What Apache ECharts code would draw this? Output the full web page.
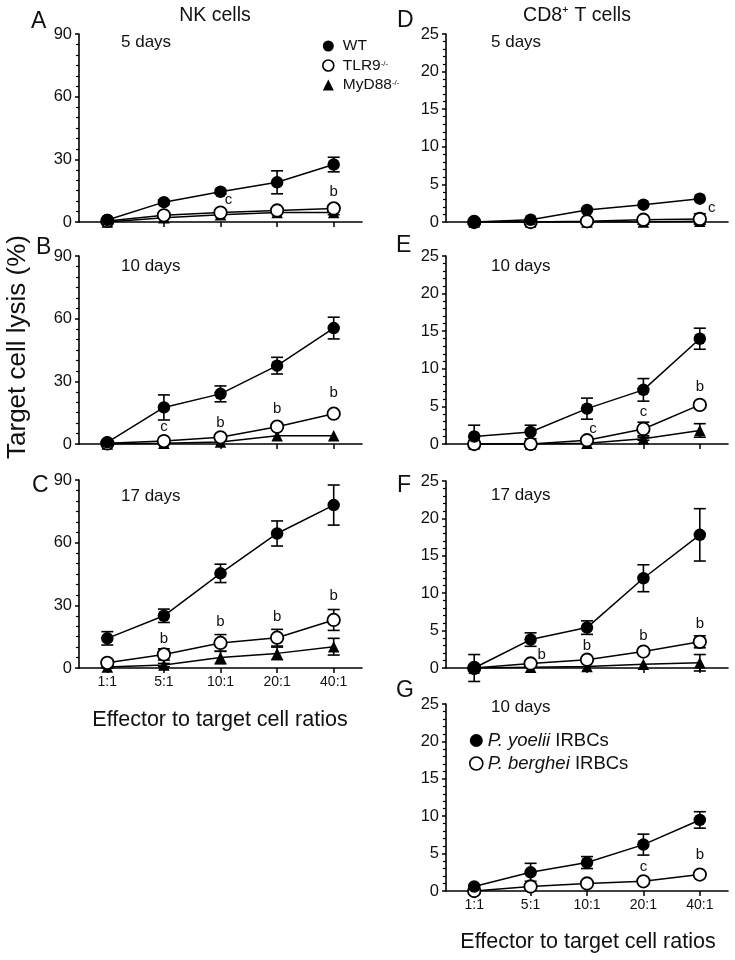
<!DOCTYPE html>
<html>
<head>
<meta charset="utf-8">
<script src="https://cdn.jsdelivr.net/npm/echarts@6/dist/echarts.min.js"></script>
<style>
  html, body { margin: 0; padding: 0; background: #fff; }
  #chart { width: 735px; height: 960px; }
</style>
</head>
<body>
<div id="chart"></div>
<script>
// effector : target ratios
var ratios = ['1:1', '5:1', '10:1', '20:1', '40:1'];

// NK cells (A: 5 days, B: 10 days, C: 17 days)
var aWT = [1, 9.5, 14.5, 19, 27.5],       aWTErr = [0, 1, 1, 5.5, 3.5];
var aTLR9 = [0.5, 3.2, 4.5, 5.5, 6.5],    aTLR9Err = [0, 1, 1, 1, 1.5];
var aMyD88 = [0, 2, 3.5, 4.5, 4.5],       aMyD88Err = [0, 0, 0, 0, 1];

var bWT = [0.8, 17.5, 24, 37.5, 55.5],    bWTErr = [0, 6, 3.8, 4, 5.2];
var bTLR9 = [0.3, 1.4, 3.2, 8.3, 14.5],   bTLR9Err = [0, 0.5, 0.5, 1, 1];
var bMyD88 = [0, 0.3, 1, 4, 4],           bMyD88Err = [0, 0, 0, 0, 0];

var cWT = [14.2, 25, 45.3, 64.4, 78],     cWTErr = [3.2, 3.2, 4.4, 6, 9.6];
var cTLR9 = [2.5, 6.5, 12, 14.5, 23],     cTLR9Err = [1.5, 2.7, 4, 4, 5];
var cMyD88 = [0.5, 1.4, 5, 7, 10.2],      cMyD88Err = [0.5, 0.8, 3, 3, 4];

// CD8+ T cells (D: 5 days, E: 10 days, F: 17 days)
var dWT = [0, 0.3, 1.6, 2.3, 3.1],        dWTErr = [0, 0, 0, 0, 0];
var dTLR9 = [0, 0, 0.1, 0.3, 0.4],        dTLR9Err = [0, 0, 0, 0, 0.7];
var dMyD88 = [0, 0, 0, 0, 0.1],           dMyD88Err = [0.3, 0.3, 0.3, 0.3, 0.3];

var eWT = [1, 1.6, 4.7, 7.2, 14],         eWTErr = [1.5, 0.9, 1.4, 1.5, 1.4];
var eTLR9 = [0, 0, 0.5, 2, 5.2],          eTLR9Err = [0.3, 0.3, 0.3, 0.9, 0.3];
var eMyD88 = [0, 0, 0.1, 0.7, 1.8],       eMyD88Err = [0, 0, 0, 0.2, 0.9];

var fWT = [0, 3.8, 5.4, 12, 17.8],        fWTErr = [1.8, 0.9, 0.9, 1.8, 3.5];
var fTLR9 = [0, 0.6, 1.1, 2.2, 3.5],      fTLR9Err = [0, 0.3, 0.3, 0.3, 0.8];
var fMyD88 = [0, 0.1, 0.2, 0.5, 0.7],     fMyD88Err = [0, 0, 0, 0, 1.1];

// G: 10 days, two parasite strains
var gYoelii = [0.6, 2.5, 3.8, 6.2, 9.5],  gYoeliiErr = [0.2, 1.2, 0.8, 1.4, 1.1];
var gBerghei = [0, 0.6, 1.0, 1.3, 2.2],   gBergheiErr = [0, 0, 0, 0, 0];

// significance letters: [category index, y value, letter]
var aSig = [[2, 10.5, 'c'], [4, 14.4, 'b']];
var bSig = [[1, 8.1, 'c'], [2, 10, 'b'], [3, 16.7, 'b'], [4, 24.4, 'b']];
var cSig = [[1, 13.9, 'b'], [2, 22, 'b'], [3, 24.4, 'b'], [4, 34.4, 'b']];
var dSig = [[4, 1.9, 'c']];
var eSig = [[2, 2.0, 'c'], [3, 4.3, 'c'], [4, 7.6, 'b']];
var fSig = [[1, 1.75, 'b'], [2, 3.0, 'b'], [3, 4.3, 'b'], [4, 5.9, 'b']];
var gSig = [[3, 3.25, 'c'], [4, 4.8, 'b']];
// sideways nudge of some letters (px)
var sigShift = { '0-0': 8, '3-0': 12, '4-0': 6, '5-0': 11 };

var FONT = '"Liberation Sans", Arial, Helvetica, sans-serif';

var panels = [
  { left: 79,  top: 34,  h: 188, max: 90, step: 30, minor: 6, showX: false, sig: aSig,
    groups: [['WT', aWT, aWTErr, 'wt'], ['TLR9-/-', aTLR9, aTLR9Err, 'ko'], ['MyD88-/-', aMyD88, aMyD88Err, 'tri']] },
  { left: 79,  top: 256, h: 188, max: 90, step: 30, minor: 6, showX: false, sig: bSig,
    groups: [['WT', bWT, bWTErr, 'wt'], ['TLR9-/-', bTLR9, bTLR9Err, 'ko'], ['MyD88-/-', bMyD88, bMyD88Err, 'tri']] },
  { left: 79,  top: 480, h: 188, max: 90, step: 30, minor: 6, showX: true, sig: cSig,
    groups: [['WT', cWT, cWTErr, 'wt'], ['TLR9-/-', cTLR9, cTLR9Err, 'ko'], ['MyD88-/-', cMyD88, cMyD88Err, 'tri']] },
  { left: 446, top: 34,  h: 188, max: 25, step: 5, minor: 5, showX: false, sig: dSig,
    groups: [['WT', dWT, dWTErr, 'wt'], ['TLR9-/-', dTLR9, dTLR9Err, 'ko'], ['MyD88-/-', dMyD88, dMyD88Err, 'tri']] },
  { left: 446, top: 256, h: 188, max: 25, step: 5, minor: 5, showX: false, sig: eSig,
    groups: [['WT', eWT, eWTErr, 'wt'], ['TLR9-/-', eTLR9, eTLR9Err, 'ko'], ['MyD88-/-', eMyD88, eMyD88Err, 'tri']] },
  { left: 446, top: 481, h: 187, max: 25, step: 5, minor: 5, showX: false, sig: fSig,
    groups: [['WT', fWT, fWTErr, 'wt'], ['TLR9-/-', fTLR9, fTLR9Err, 'ko'], ['MyD88-/-', fMyD88, fMyD88Err, 'tri']] },
  { left: 446, top: 704, h: 187, max: 25, step: 5, minor: 5, showX: true, sig: gSig,
    groups: [['P. yoelii IRBCs', gYoelii, gYoeliiErr, 'wt'], ['P. berghei IRBCs', gBerghei, gBergheiErr, 'ko']] }
];

var grid = [], xAxis = [], yAxis = [], series = [];

panels.forEach(function (p, i) {
  grid.push({ left: p.left, top: p.top, width: i < 3 ? 283 : 282, height: p.h });
  xAxis.push({
    type: 'category', gridIndex: i, data: ratios, boundaryGap: true,
    axisLine: { lineStyle: { color: '#000', width: 1.6 } },
    axisTick: { show: true, alignWithLabel: true, length: 5, lineStyle: { color: '#000', width: 1.5 } },
    axisLabel: { show: p.showX, color: '#111', fontSize: 14, fontFamily: FONT, margin: 7 },
    splitLine: { show: false }
  });
  yAxis.push({
    type: 'value', gridIndex: i, min: 0, max: p.max, interval: p.step,
    axisLine: { show: true, lineStyle: { color: '#000', width: 1.6 } },
    axisTick: { show: true, length: 4, lineStyle: { color: '#000', width: 1.5 } },
    minorTick: { show: true, splitNumber: p.minor, length: 3, lineStyle: { color: '#000', width: 1.2 } },
    axisLabel: { color: '#111', fontSize: 16.5, fontFamily: FONT, margin: 7 },
    splitLine: { show: false }
  });

  p.groups.forEach(function (g) {
    var name = g[0], vals = g[1], errs = g[2], kind = g[3];
    // error bars
    series.push({
      type: 'custom', xAxisIndex: i, yAxisIndex: i, z: 2, silent: true,
      data: vals.map(function (v, k) { return [k, v - errs[k], v + errs[k], errs[k]]; }),
      renderItem: function (params, api) {
        if (!(api.value(3) > 0)) return null;
        var hi = api.coord([api.value(0), api.value(2)]);
        var lo = api.coord([api.value(0), api.value(1)]);
        var st = { stroke: '#000', lineWidth: 1.6 };
        return {
          type: 'group', children: [
            { type: 'line', shape: { x1: hi[0], y1: hi[1], x2: lo[0], y2: lo[1] }, style: st },
            { type: 'line', shape: { x1: hi[0] - 6, y1: hi[1], x2: hi[0] + 6, y2: hi[1] }, style: st },
            { type: 'line', shape: { x1: lo[0] - 6, y1: lo[1], x2: lo[0] + 6, y2: lo[1] }, style: st }
          ]
        };
      }
    });
    var s = {
      type: 'line', name: name, xAxisIndex: i, yAxisIndex: i, data: vals,
      symbolSize: 12.5, showAllSymbol: true, silent: true, animation: false,
      lineStyle: { color: '#000', width: 1.5 }, z: kind === 'wt' ? 5 : (kind === 'ko' ? 4 : 3)
    };
    if (kind === 'wt') { s.symbol = 'circle'; s.itemStyle = { color: '#000' }; }
    else if (kind === 'ko') { s.symbol = 'circle'; s.itemStyle = { color: '#fff', borderColor: '#000', borderWidth: 1.8 }; }
    else { s.symbol = 'triangle'; s.symbolSize = 11.5; s.itemStyle = { color: '#000' }; }
    series.push(s);
  });

  // significance letters
  series.push({
    type: 'custom', xAxisIndex: i, yAxisIndex: i, z: 6, silent: true,
    data: p.sig.map(function (d) { return [d[0], d[1]]; }),
    renderItem: function (params, api) {
      var pt = api.coord([api.value(0), api.value(1)]);
      var dx = sigShift[i + '-' + params.dataIndex] || 0;
      return {
        type: 'text', x: pt[0] + dx, y: pt[1],
        style: { text: p.sig[params.dataIndex][2], fill: '#111', font: '15px ' + FONT, align: 'center', verticalAlign: 'middle' }
      };
    }
  });
});

var supRich = {
  sup: { fontSize: 8, fontFamily: FONT, color: '#111', lineHeight: 10, verticalAlign: 'bottom', padding: [0, 0, 6, 0] },
  n: { fontSize: 15.5, fontFamily: FONT, color: '#111', lineHeight: 16 },
  it: { fontSize: 18.5, fontFamily: FONT, color: '#111', fontStyle: 'italic', lineHeight: 20 },
  g: { fontSize: 18.5, fontFamily: FONT, color: '#111', lineHeight: 20 }
};

function txt(x, y, s, size, align, extra) {
  var o = { type: 'text', x: x, y: y, style: { text: s, font: size + 'px ' + FONT, fill: '#111', align: align || 'left', verticalAlign: 'middle' } };
  if (extra) Object.keys(extra).forEach(function (k) { o[k] = extra[k]; });
  return o;
}

var option = {
  backgroundColor: '#fff',
  animation: false,
  grid: grid,
  xAxis: xAxis,
  yAxis: yAxis,
  series: series,
  legend: [
    {
      left: 322, top: 38, orient: 'vertical', padding: 0, itemGap: 3.5, itemWidth: 11, itemHeight: 11,
      selectedMode: false,
      data: [
        { name: 'WT', icon: 'circle', itemStyle: { color: '#000' } },
        { name: 'TLR9-/-', icon: 'circle', itemStyle: { color: '#fff', borderColor: '#000', borderWidth: 1.6 } },
        { name: 'MyD88-/-', icon: 'triangle', itemStyle: { color: '#000' } }
      ],
      formatter: function (n) {
        var m = n.split('-/-');
        return m.length > 1 ? '{n|' + m[0] + '}{sup|-/-}' : '{n|' + n + '}';
      },
      textStyle: { padding: [0, 0, 0, 4], rich: supRich }
    },
    {
      left: 469, top: 731, orient: 'vertical', padding: 0, itemGap: 4, itemWidth: 13, itemHeight: 13,
      selectedMode: false,
      data: [
        { name: 'P. yoelii IRBCs', icon: 'circle', itemStyle: { color: '#000' } },
        { name: 'P. berghei IRBCs', icon: 'circle', itemStyle: { color: '#fff', borderColor: '#000', borderWidth: 1.6 } }
      ],
      formatter: function (n) {
        var k = n.indexOf(' IRBCs');
        return '{it|' + n.slice(0, k) + '}{g|' + n.slice(k) + '}';
      },
      textStyle: { rich: supRich }
    }
  ],
  graphic: [
    txt(215, 16, 'NK cells', 19.5, 'center'),
    txt(577, 16, 'CD8\u207A T cells', 19.5, 'center'),
    txt(31, 22, 'A', 23), txt(36, 248, 'B', 23), txt(32, 486, 'C', 23),
    txt(397, 21, 'D', 23), txt(396, 246, 'E', 23), txt(397, 486, 'F', 23), txt(396, 691, 'G', 23),
    txt(121, 42, '5 days', 17), txt(491, 42, '5 days', 17),
    txt(121, 266, '10 days', 17), txt(491, 266, '10 days', 17),
    txt(121, 496, '17 days', 17), txt(491, 495, '17 days', 17),
    txt(491, 707, '10 days', 17),
    txt(220, 720, 'Effector to target cell ratios', 21.5, 'center'),
    txt(588, 942, 'Effector to target cell ratios', 21.5, 'center'),
    txt(0, 0, 'Target cell lysis (%)', 26, 'center', { x: 18, y: 347, rotation: Math.PI / 2 })
  ]
};

echarts.init(document.getElementById('chart'), null, { renderer: 'canvas' }).setOption(option);
</script>
</body>
</html>
